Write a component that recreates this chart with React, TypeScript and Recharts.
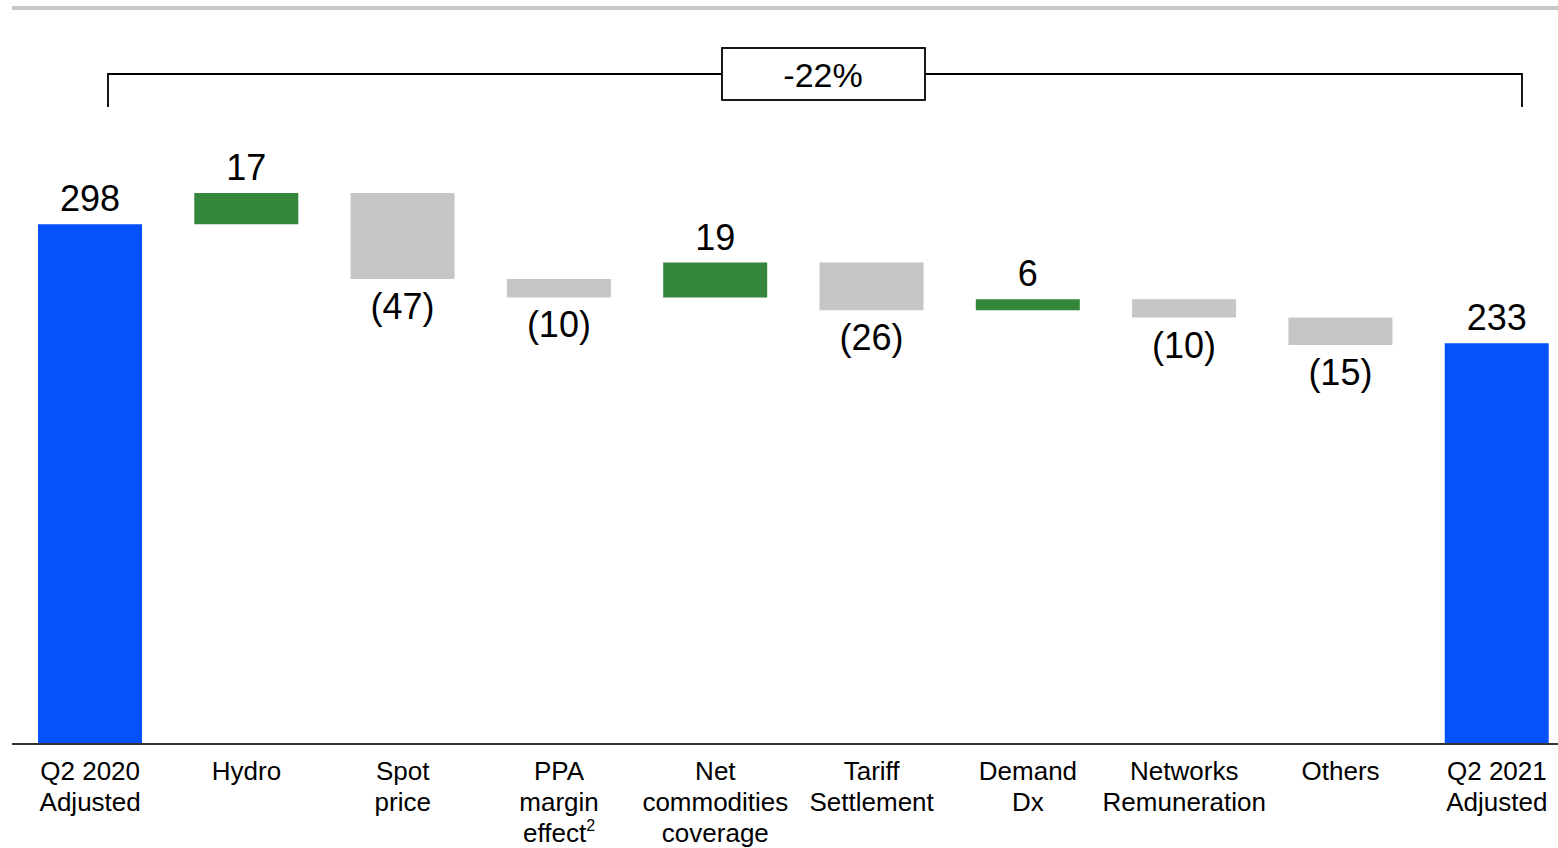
import React from 'react';
import { BarChart, Bar, XAxis, YAxis, Cell, LabelList, Customized } from 'recharts';

// EBITDA bridge, Q2 2020 -> Q2 2021 (USD mn)
const categories = [
  'Q2 2020 Adjusted',
  'Hydro',
  'Spot price',
  'PPA margin effect',
  'Net commodities coverage',
  'Tariff Settlement',
  'Demand Dx',
  'Networks Remuneration',
  'Others',
  'Q2 2021 Adjusted',
];
const tickLines = [
  ['Q2 2020', 'Adjusted'],
  ['Hydro'],
  ['Spot', 'price'],
  ['PPA', 'margin', 'effect'],
  ['Net', 'commodities', 'coverage'],
  ['Tariff', 'Settlement'],
  ['Demand', 'Dx'],
  ['Networks', 'Remuneration'],
  ['Others'],
  ['Q2 2021', 'Adjusted'],
];
const values = [298, 17, -47, -10, 19, -26, 6, -10, -15, 233];
const isTotal = [true, false, false, false, false, false, false, false, false, true];
const changeLabel = '-22%';

const BLUE = '#0552FC';
const GREEN = '#33863A';
const GREY = '#C6C6C6';
const FONT = '"Liberation Sans", Arial, sans-serif';

// running sum -> [low, high] range for each floating bar
let running = 0;
const data = categories.map((name, i) => {
  const v = values[i];
  let range: [number, number];
  if (isTotal[i]) {
    range = [0, v];
    running = v;
  } else {
    const end = running + v;
    range = [Math.min(running, end), Math.max(running, end)];
    running = end;
  }
  return { name, value: v, range };
});

const barColor = (i: number) => (isTotal[i] ? BLUE : values[i] >= 0 ? GREEN : GREY);
const fmt = (v: number) => (v < 0 ? `(${Math.abs(v)})` : `${v}`);

const ValueLabel = (props: any) => {
  const { x, y, width, height, index } = props;
  const v = values[index];
  const cx = x + width / 2;
  const ty = v >= 0 ? y - 13 : y + height + 40;
  return (
    <text x={cx} y={ty} textAnchor="middle" fontSize={36} fontFamily={FONT} fill="#000">
      {fmt(v)}
    </text>
  );
};

const CategoryTick = (props: any) => {
  const { x, y, payload } = props;
  const lines = tickLines[payload.index];
  return (
    <text x={x} y={y} textAnchor="middle" fontSize={26} fontFamily={FONT} fill="#000">
      {lines.map((line, j) => (
        <tspan key={j} x={x} dy={j === 0 ? 36 : 31}>
          {line}
          {line === 'effect' && (
            <tspan fontSize={16} dy={-11}>
              2
            </tspan>
          )}
        </tspan>
      ))}
    </text>
  );
};

// header rule plus the bracket with the overall change
const Annotations = () => (
  <g>
    <line x1={12} x2={1560} y1={8} y2={8} stroke="#C8C8C8" strokeWidth={4} />
    <polyline
      points="108,107 108,74 1522,74 1522,107"
      fill="none"
      stroke="#000"
      strokeWidth={1.8}
    />
    <rect x={722} y={48} width={203} height={52} fill="#fff" stroke="#000" strokeWidth={1.8} />
    <text x={823} y={87} textAnchor="middle" fontSize={34} fontFamily={FONT} fill="#000">
      {changeLabel}
    </text>
  </g>
);

export default function App() {
  return (
    <div
      style={{
        position: 'fixed',
        top: 0,
        left: 0,
        width: 1558,
        height: 848,
        overflow: 'hidden',
        background: '#fff',
      }}
    >
      <BarChart
        width={1580}
        height={848}
        data={data}
        margin={{ top: 129, right: 5, bottom: 0, left: 12 }}
        barCategoryGap={26}
      >
        <XAxis
          dataKey="name"
          axisLine={{ stroke: '#333', strokeWidth: 2 }}
          tickLine={false}
          tickSize={0}
          tickMargin={0}
          interval={0}
          height={104}
          tick={<CategoryTick />}
        />
        <YAxis hide domain={[14, 350]} allowDataOverflow />
        <Bar dataKey="range" isAnimationActive={false}>
          {data.map((_, i) => (
            <Cell key={i} fill={barColor(i)} />
          ))}
          <LabelList dataKey="value" content={<ValueLabel />} />
        </Bar>
        <Customized component={Annotations} />
      </BarChart>
    </div>
  );
}
